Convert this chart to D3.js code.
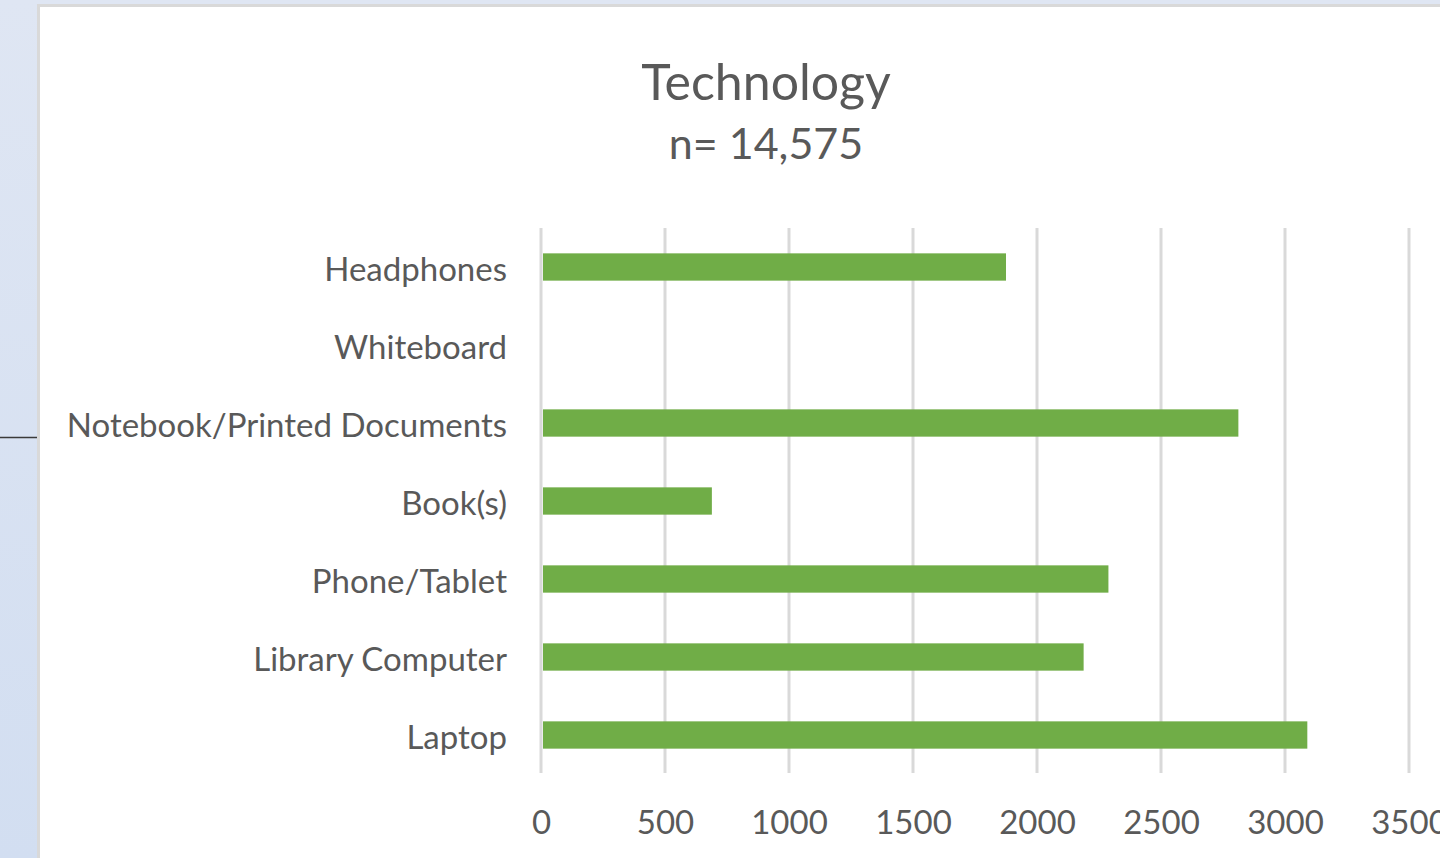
<!DOCTYPE html>
<html><head><meta charset="utf-8">
<script src="https://cdn.jsdelivr.net/npm/d3@7/dist/d3.min.js"></script>
<style>
html,body{margin:0;padding:0;overflow:hidden;background:#fff;}
svg{display:block;}
text{font-family:Lato,"Noto Sans",sans-serif;fill:#595959;}
</style></head>
<body>
<svg id="chart" width="1440" height="858"></svg>
<script>
const categories = ["Headphones","Whiteboard","Notebook/Printed Documents","Book(s)","Phone/Tablet","Library Computer","Laptop"];
const values = [1875, 0, 2812, 689, 2288, 2188, 3090];
const tickValues = [0,500,1000,1500,2000,2500,3000,3500];
const title = "Technology";
const subtitle = "n= 14,575";

const svg = d3.select("#chart");
// slide background
const defs = svg.append("defs");
const grad = defs.append("linearGradient").attr("id","bg").attr("x1",0).attr("y1",0).attr("x2",0).attr("y2",1);
grad.append("stop").attr("offset","0%").attr("stop-color","#DFE6F3");
grad.append("stop").attr("offset","100%").attr("stop-color","#D2DEF1");
svg.append("rect").attr("width",1440).attr("height",858).attr("fill","url(#bg)");
// chart frame
svg.append("rect").attr("x",37).attr("y",4).attr("width",1420).attr("height",870).attr("fill","#D9D9D9");
svg.append("rect").attr("x",40).attr("y",7).attr("width",1420).attr("height",870).attr("fill","#FFFFFF");
// connector line on slide
svg.append("line").attr("x1",0).attr("x2",37).attr("y1",437.5).attr("y2",437.5).attr("stroke","#3A3A3A").attr("stroke-width",1.5);

const x = d3.scaleLinear().domain([0,3500]).range([541,1409]);
const y = d3.scaleBand().domain(categories).range([228,774]).paddingInner(0.65).paddingOuter(0.325);

// gridlines
svg.append("g").selectAll("line").data(tickValues).join("line")
  .attr("x1",d=>x(d)).attr("x2",d=>x(d)).attr("y1",228).attr("y2",773)
  .attr("stroke","#D9D9D9").attr("stroke-width",3);

// bars
svg.append("g").selectAll("rect").data(values).join("rect")
  .attr("x",x(0)+2).attr("y",(d,i)=>y(categories[i]))
  .attr("width",d=>Math.max(0,x(d)-x(0)-2)).attr("height",y.bandwidth())
  .attr("fill","#70AD47");

// x axis labels
const xAxis = d3.axisBottom(x).tickValues(tickValues).tickSize(0).tickPadding(0).tickFormat(d3.format("d"));
const gx = svg.append("g").attr("transform","translate(0,811)").call(xAxis);
gx.select(".domain").remove();
gx.selectAll("text").style("font-size","33px").style("font-family","Lato").attr("fill","#595959").attr("dy","0.71em").attr("y",0);

// y axis labels
const yAxis = d3.axisLeft(y).tickSize(0).tickPadding(34);
const gy = svg.append("g").attr("transform",`translate(${x(0)},3)`).call(yAxis);
gy.select(".domain").remove();
gy.selectAll("text").style("font-size","33px").style("font-family","Lato").attr("fill","#595959");

// titles
svg.append("text").attr("x",766).attr("y",100).attr("text-anchor","middle").style("font-size","50px").text(title);
svg.append("text").attr("x",766).attr("y",159).attr("text-anchor","middle").style("font-size","43px").text(subtitle);
</script>
</body></html>
